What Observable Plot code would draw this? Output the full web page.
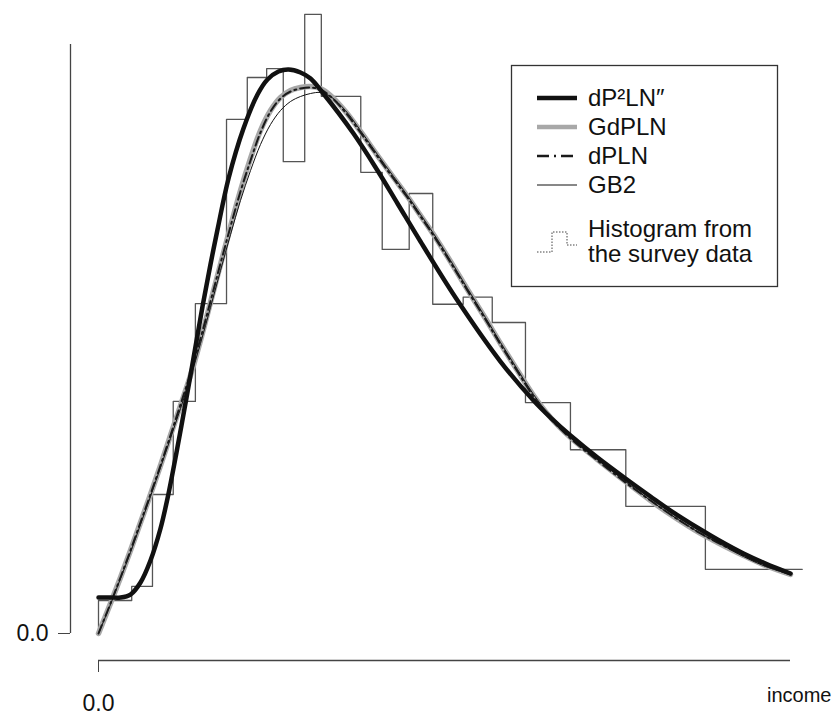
<!DOCTYPE html>
<html>
<head>
<meta charset="utf-8">
<script src="https://cdn.jsdelivr.net/npm/d3@7"></script>
<script src="https://cdn.jsdelivr.net/npm/@observablehq/plot@0.6"></script>
<style>
  html, body { margin: 0; padding: 0; background: #fff; }
  #chart { width: 835px; height: 718px; }
</style>
</head>
<body>
<div id="chart"></div>
<script>
// ---- Histogram from the survey data (bin edges, bin heights) ----
const histEdges = [0, 4.8, 7.8, 10.8, 14.0, 18.5, 21.5, 24.3, 26.7, 29.8, 32.2, 37.9, 41.0, 44.9, 48.3, 52.7, 56.9, 61.7, 68.2, 76.2, 87.7, 101.7];
const histHeights = [5.6, 8.0, 23.6, 39.4, 56.0, 87.3, 94.4, 95.9, 80.1, 105.1, 91.2, 78.3, 65.2, 74.7, 55.9, 57.1, 52.8, 39.2, 31.2, 21.6, 10.9];

// ---- dP2LN'' fitted density ----
const dp2lnIncome = [0, 1.73, 3.18, 4.62, 6.07, 7.51, 8.96, 9.97, 11.27, 12.72, 13.87, 15.03, 16.18, 17.20, 18.79, 20.95, 22.98, 24.42, 26.01, 27.46, 29.19, 30.64, 32.37, 36.85, 40.32, 43.21, 46.53, 51.59, 58.09, 62.86, 65.32, 68.21, 72.11, 76.16, 79.77, 82.66, 87.00, 89.45, 93.21, 96.39, 100];
const dp2lnDensity = [6.11, 6.11, 6.11, 6.62, 8.66, 12.39, 17.83, 22.92, 30.73, 40.07, 47.71, 55.52, 62.65, 68.59, 77.25, 85.74, 91.51, 94.06, 95.42, 95.76, 95.25, 94.23, 91.85, 84.89, 78.61, 73.01, 66.55, 57.05, 46.18, 39.56, 36.67, 33.62, 29.88, 26.32, 23.26, 20.88, 17.66, 15.96, 13.58, 11.88, 10.19];

// ---- income grid shared by GdPLN, dPLN, GB2 ----
const incomeGrid = [0, 1.73, 3.18, 4.62, 6.07, 7.51, 8.96, 10.40, 11.85, 13.29, 14.74, 16.18, 17.63, 19.08, 20.52, 21.97, 23.41, 24.86, 26.30, 27.75, 29.19, 30.64, 32.08, 33.53, 35.69, 37.86, 40.32, 42.63, 44.65, 46.53, 48.41, 50.87, 53.32, 55.92, 58.09, 60.55, 62.86, 65.32, 68.21, 72.11, 76.16, 79.77, 82.66, 87.00, 89.45, 93.21, 96.39, 100];
const gdplnDensity = [0, 5.09, 9.51, 14.09, 18.85, 23.60, 28.52, 33.62, 38.71, 43.80, 49.75, 56.20, 62.65, 69.10, 75.21, 80.65, 85.40, 88.79, 91.00, 92.19, 92.70, 92.87, 92.53, 91.34, 88.62, 85.23, 81.15, 77.42, 74.19, 70.97, 67.74, 63.16, 58.40, 53.48, 49.24, 44.65, 40.41, 36.67, 33.28, 29.54, 25.81, 22.58, 20.20, 16.98, 15.45, 13.24, 11.54, 10.02];
const dplnDensity = [0, 5.09, 9.51, 14.09, 18.85, 23.60, 28.52, 33.62, 38.88, 44.14, 50.08, 56.37, 62.82, 69.10, 75.04, 80.31, 85.06, 88.62, 90.83, 92.02, 92.53, 92.70, 92.36, 91.17, 88.46, 85.06, 80.98, 77.25, 74.02, 70.80, 67.57, 62.99, 58.23, 53.31, 49.07, 44.48, 40.24, 36.50, 33.11, 29.37, 25.64, 22.58, 20.20, 16.98, 15.45, 13.24, 11.54, 10.02];
const gb2Density = [0, 4.92, 9.34, 13.75, 18.51, 23.26, 28.18, 33.11, 38.20, 43.46, 49.24, 55.35, 61.63, 67.74, 73.51, 78.61, 83.02, 86.42, 88.79, 90.32, 91.17, 91.68, 91.85, 91.17, 88.79, 85.40, 81.32, 77.59, 74.36, 71.14, 67.91, 63.33, 58.57, 53.65, 49.41, 44.82, 40.58, 36.84, 33.28, 29.54, 25.81, 22.58, 20.20, 16.98, 15.45, 13.07, 11.38, 10.02];

// ---- axis tick values / labels ----
const xTicks = [0];
const yTicks = [0];
const xLabel = "income";
const legendLabels = ["dP\u00B2LN\u2033", "GdPLN", "dPLN", "GB2", ["Histogram from", "the survey data"]];

// ---- build tables ----
const histPoints = [{x: histEdges[0], y: 0}];
histHeights.forEach((h, i) => histPoints.push({x: histEdges[i], y: h}));
histPoints.push({x: histEdges[histEdges.length - 1], y: histHeights[histHeights.length - 1]});
const zip = (xs, ys) => xs.map((x, i) => ({x, y: ys[i]}));
const dp2ln = zip(dp2lnIncome, dp2lnDensity);
const gdpln = zip(incomeGrid, gdplnDensity);
const dpln = zip(incomeGrid, dplnDensity);
const gb2 = zip(incomeGrid, gb2Density);

const font = "'Liberation Sans', Arial, Helvetica, sans-serif";
const smooth = "catmull-rom";

const chart = Plot.plot({
  width: 835,
  height: 718,
  marginLeft: 98,
  marginRight: 45,
  marginTop: 44,
  marginBottom: 85,
  x: {domain: [0, 100]},
  y: {domain: [0, 100]},
  style: {fontFamily: font, fontSize: "22px", color: "#111", background: "#fff", overflow: "visible"},
  marks: [
    Plot.line(histPoints, {x: "x", y: "y", curve: "step-after", stroke: "#555", strokeWidth: 1.3}),
    Plot.line(gdpln, {x: "x", y: "y", curve: smooth, stroke: "#a8a8a8", strokeWidth: 5.5, strokeLinejoin: "round"}),
    Plot.line(gb2, {x: "x", y: "y", curve: smooth, stroke: "#111", strokeWidth: 1}),
    Plot.line(dpln, {x: "x", y: "y", curve: smooth, stroke: "#1a1a1a", strokeWidth: 2, strokeDasharray: "9,4,2,4"}),
    Plot.line(dp2ln, {x: "x", y: "y", curve: smooth, stroke: "#111", strokeWidth: 4.5, strokeLinejoin: "round"}),
    // y axis (offset like R)
    Plot.ruleX([0], {y1: 0, y2: 100, dx: -28, stroke: "#444", strokeWidth: 1.3}),
    Plot.axisY({ticks: yTicks, tickFormat: d3.format(".1f"), tickSize: 12, tickPadding: 10, dx: -28, label: null, stroke: "#444", fontSize: 23}),
    // x axis (offset like R)
    Plot.ruleY([0], {x1: 0, x2: 100, dy: 27, stroke: "#444", strokeWidth: 1.3}),
    Plot.axisX({ticks: xTicks, tickFormat: d3.format(".1f"), tickSize: 12, tickPadding: 22, dy: 27, label: null, stroke: "#444", fontSize: 23}),
    Plot.text([xLabel], {frameAnchor: "bottom-right", text: d => d, dx: 41, dy: 68, textAnchor: "end", lineAnchor: "bottom", fontSize: 20, fill: "#111"})
  ]
});

document.getElementById("chart").appendChild(chart);

// ---- legend (inside the plot, top-right) ----
const svg = d3.select(chart);
const lg = svg.append("g").attr("font-family", font).attr("font-size", 24)
  .attr("fill", "#111").attr("text-anchor", "start");
lg.append("rect").attr("x", 511.5).attr("y", 65.5).attr("width", 266).attr("height", 221)
  .attr("fill", "#fff").attr("stroke", "#333").attr("stroke-width", 1.3);
const rows = [98, 127, 156, 185];
const styles = [
  {stroke: "#111", width: 4.5, dash: null},
  {stroke: "#a8a8a8", width: 4.5, dash: null},
  {stroke: "#1a1a1a", width: 2.5, dash: "12,5,2,5"},
  {stroke: "#111", width: 1, dash: null}
];
const x0 = 537, x1 = 577, tx = 588;
rows.forEach((yy, i) => {
  const s = styles[i];
  const l = lg.append("line").attr("x1", x0).attr("x2", x1).attr("y1", yy).attr("y2", yy)
    .attr("stroke", s.stroke).attr("stroke-width", s.width);
  if (s.dash) l.attr("stroke-dasharray", s.dash);
  lg.append("text").attr("x", tx).attr("y", yy).attr("dy", "0.35em").text(legendLabels[i]);
});
// histogram legend icon (dotted step)
lg.append("path").attr("d", `M${x0},252 H552 V232 H567 V245 H${x1}`)
  .attr("fill", "none").attr("stroke", "#444").attr("stroke-width", 1).attr("stroke-dasharray", "1.5,1.5");
legendLabels[4].forEach((t, j) => {
  lg.append("text").attr("x", tx).attr("y", 229 + j * 25).attr("dy", "0.35em").text(t);
});
</script>
</body>
</html>
